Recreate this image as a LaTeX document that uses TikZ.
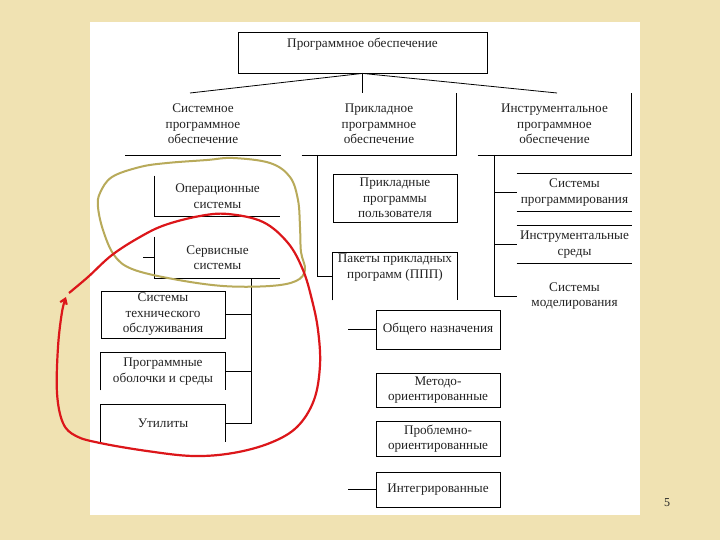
\documentclass[tikz,border=0pt]{standalone}
\usepackage{fontspec}
\setmainfont{Liberation Serif}
\usepackage{tikz}
\usetikzlibrary{arrows.meta}

\definecolor{paper}{RGB}{240,226,178}
\definecolor{ink}{RGB}{35,35,35}
\definecolor{hoop}{RGB}{184,170,90}
\definecolor{redpen}{RGB}{220,22,26}

\begin{document}
\begin{tikzpicture}[x=1bp, y=-1bp, line width=0.8pt,
    txt/.style={align=center, text=ink, inner sep=0pt, font=\fontsize{13.2bp}{15.5bp}\selectfont},
    dim/.style 2 args={txt, minimum width=#1bp, minimum height=#2bp},
    box/.style={draw}]
\useasboundingbox (0, 0) rectangle (720, 540);
\fill[paper] (0, 0) rectangle (720, 540);
\fill[white] (90, 22) rectangle (640, 515);

% top and the three kinds
\node[dim={249}{41}, box] (po) at (362.5, 52.5) {Программное обеспечение\\\strut};
\node[dim={155}{62}] (spo) at (203, 124) {Системное\\программное\\обеспечение};
\node[dim={154}{62}] (ppo) at (379, 124) {Прикладное\\программное\\обеспечение};
\node[dim={153}{62}] (ipo) at (554.5, 124) {Инструментальное\\программное\\обеспечение};
\coordinate (spo-in) at (190, 93);
\coordinate (ipo-in) at (557, 93);
\draw (po.south) -- (spo-in);
\draw (po.south) -- (po.south |- ppo.north);
\draw (po.south) -- (ipo-in);
\draw (spo.south west) -- (spo.south east);
\draw (ppo.south west) -- (ppo.south east) -- (ppo.north east);
\draw (ipo.south west) -- (ipo.south east) -- (ipo.north east);

% system software
\node[dim={125}{40}] (os) at (217.5, 196) {Операционные\\системы};
\node[dim={125}{41}] (ss) at (217.5, 257.5) {Сервисные\\системы};
\draw (os.north west) -- (os.south west) -- (os.south east);
\draw (ss.north west) -- (ss.south west) -- (ss.south east);
\draw (ss.west) -- ++(-12, 0);
\node[dim={124}{47}, box] (sto) at (163, 314.5) {Системы\\технического\\обслуживания};
\node[dim={124}{37}] (obl) at (163, 371.5) {Программные\\оболочки и среды};
\node[dim={124}{37}] (ut) at (163, 423.5) {Утилиты};
\draw (obl.south west) -- (obl.north west) -- (obl.north east) -- (obl.south east);
\draw (ut.south west) -- (ut.north west) -- (ut.north east) -- (ut.south east);
\coordinate (sbus) at (251, 278);
\draw (sbus) |- (ut.east);
\draw (sto.east) -- (sto.east -| sbus);
\draw (obl.east) -- (obl.east -| sbus);

% application software
\node[dim={124}{48}, box] (ppu) at (395, 198) {Прикладные\\программы\\пользователя};
\node[dim={124}{47}] (ppp) at (395, 276.5) {Пакеты прикладных\\программ (ППП)\\\strut};
\draw (ppp.south west) -- (ppp.north west) -- (ppp.north east) -- (ppp.south east);
\coordinate (mbus) at (317, 155);
\draw (mbus) |- (ppp.west);
\node[dim={124}{39}, box] (on) at (438, 329.5) {Общего назначения};
\node[dim={124}{34}, box] (mo) at (438, 390) {Методо-\\ориентированные};
\node[dim={124}{35}, box] (pro) at (438, 438.5) {Проблемно-\\ориентированные};
\node[dim={124}{35}, box] (intg) at (438, 489.5) {Интегрированные};
\draw (on.west) -- ++(-28, 0);
\draw (intg.west) -- ++(-28, 0);

% tool software
\node[dim={115}{37}] (sp) at (574.5, 192.5) {Системы\\программирования};
\node[dim={115}{37}] (is) at (574.5, 244.5) {Инструментальные\\среды};
\node[dim={115}{34}] (sm) at (574.5, 296) {Системы\\моделирования};
\draw (sp.north west) -- (sp.north east) (sp.south west) -- (sp.south east);
\draw (is.north west) -- (is.north east) (is.south west) -- (is.south east);
\coordinate (rbus) at (494, 155);
\draw (rbus) |- (sm.west);
\draw (sp.west) -- (sp.west -| rbus);
\draw (is.west) -- (is.west -| rbus);

% pen marks
\draw[hoop, line width=2bp] plot[smooth cycle, tension=0.6] coordinates {
    (100,193) (112,177) (140,167) (167,163) (207,160) (233,158) (270,163) (290,177)
    (298,200) (300,227) (301,252) (305,270) (296,281) (270,286) (223,286) (173,279)
    (132,269) (114,255) (103,230) (98,207)};
\draw[redpen, line width=2.2bp, -{Straight Barb[length=5bp, width=7bp]}] plot[smooth, tension=0.6] coordinates {
    (69,293) (88,277) (112,255) (140,237) (165,225) (200,216) (228,214) (263,222)
    (288,243) (303,270) (312,300) (318,330) (320,365) (314,400) (297,427) (270,443)
    (233,453) (193,456) (147,451) (100,443) (76,436) (63,423) (57,393) (58,347)
    (62,312) (66,297)};

\node[txt, font=\fontsize{12bp}{14bp}\selectfont] (pg) at (667, 503) {5};
\end{tikzpicture}
\end{document}
